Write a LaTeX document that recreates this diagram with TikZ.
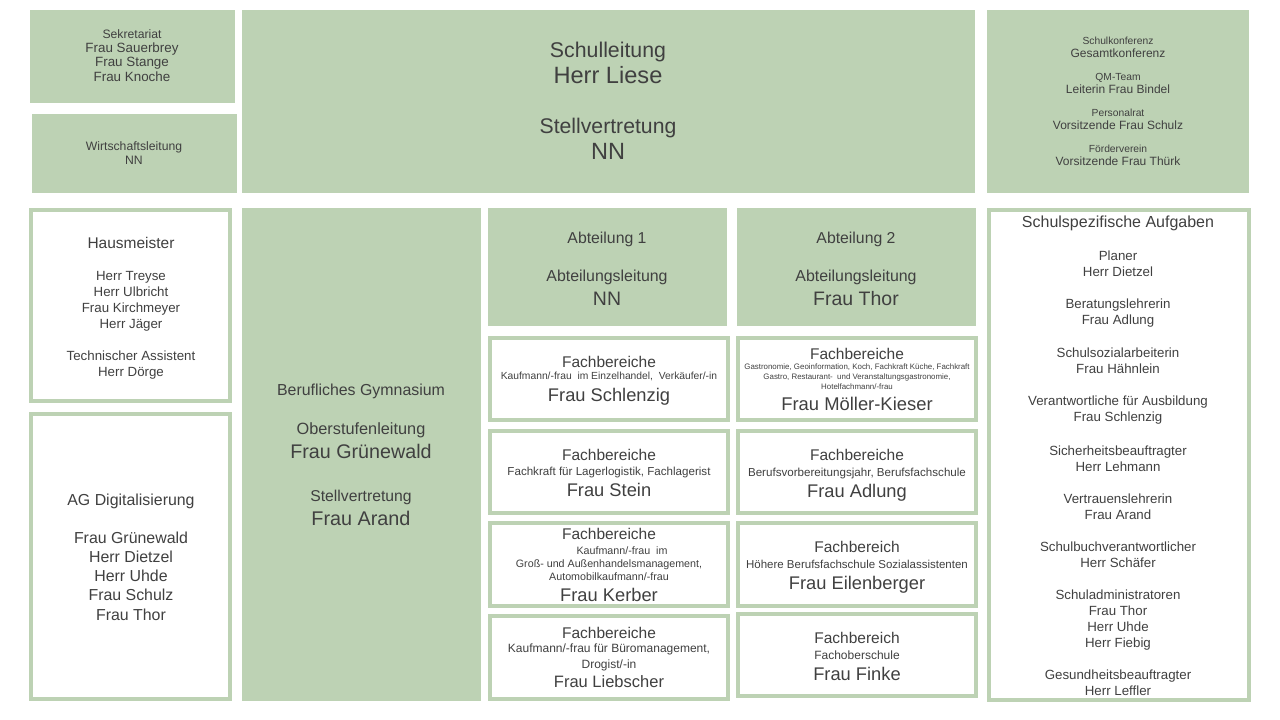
\documentclass[tikz,border=0pt]{standalone}
\usepackage{fontspec}
\setmainfont{Liberation Sans}
\definecolor{gfill}{RGB}{189,210,180}
\definecolor{tcol}{RGB}{64,64,64}
\tikzset{
  fillbox/.style={fill=gfill,draw=none,inner sep=0pt,outer sep=0pt},
  linebox/.style={fill=white,draw=gfill,line width=4pt,inner sep=0pt,outer sep=0pt},
  txt/.style={text=tcol,inner sep=0pt,outer sep=0pt,anchor=base}
}
\newcommand\fbx[5]{\node[fillbox,minimum width={(#4-#2)*1pt},minimum height={(#5-#3)*1pt}] (#1) at ({(#2+#4)/2},{(#3+#5)/2}) {};}
\newcommand\obx[5]{\node[linebox,minimum width={(#4-#2-4)*1pt},minimum height={(#5-#3-4)*1pt}] (#1) at ({(#2+#4)/2},{(#3+#5)/2}) {};}
\newcommand\tx[5]{\node[txt,font=\fontsize{#4}{#4}\selectfont] (#1) at (#2,{#3+0.36*#4}) {#5};}
\begin{document}
\begin{tikzpicture}[x=1pt,y=-1pt]
\useasboundingbox (0,0) rectangle (1280,720);
% ---- boxes
\fbx{sek}{30}{10}{235}{103}
\fbx{wirt}{32}{114}{237}{193}
\fbx{sl}{242}{10}{975}{193}
\fbx{gremien}{987}{10}{1249}{193}
\obx{haus}{29}{208}{232}{403}
\obx{agd}{29}{412}{232}{701}
\fbx{gym}{242}{208}{481}{701}
\fbx{abt1}{488}{208}{727}{326}
\fbx{abt2}{737}{208}{976}{326}
\obx{fa1}{488}{336}{730}{422}
\obx{fa2}{488}{429}{730}{515}
\obx{fa3}{488}{521}{730}{608}
\obx{fa4}{488}{614}{730}{701}
\obx{fb1}{736}{336}{978}{422}
\obx{fb2}{736}{429}{978}{515}
\obx{fb3}{736}{521}{978}{608}
\obx{fb4}{736}{612}{978}{698}
\obx{sa}{987}{208}{1251}{702}
% ---- Sekretariat
\tx{s1}{132}{34}{12.2}{Sekretariat}
\tx{s2}{132}{48}{13.4}{Frau Sauerbrey}
\tx{s3}{132}{62}{13.4}{Frau Stange}
\tx{s4}{132}{77}{13.4}{Frau Knoche}
% ---- Wirtschaftsleitung
\tx{w1}{134}{146}{12.2}{Wirtschaftsleitung}
\tx{w2}{134}{160}{12.2}{NN}
% ---- Schulleitung
\tx{l1}{608}{50}{21.3}{Schulleitung}
\tx{l2}{608}{75}{23.6}{Herr Liese}
\tx{l3}{608}{126}{21.2}{Stellvertretung}
\tx{l4}{608}{151}{23.5}{NN}
% ---- Gremien
\tx{g1}{1118}{41}{10.3}{Schulkonferenz}
\tx{g2}{1118}{53}{12}{Gesamtkonferenz}
\tx{g3}{1118}{77}{10.3}{QM-Team}
\tx{g4}{1118}{89}{12}{Leiterin Frau Bindel}
\tx{g5}{1118}{113}{10.3}{Personalrat}
\tx{g6}{1118}{125}{12}{Vorsitzende Frau Schulz}
\tx{g7}{1118}{149}{10.3}{Förderverein}
\tx{g8}{1118}{161}{12}{Vorsitzende Frau Thürk}
% ---- Hausmeister
\tx{h1}{131}{243}{15.5}{Hausmeister}
\tx{h2}{131}{276}{13.3}{Herr Treyse}
\tx{h3}{131}{292}{13.3}{Herr Ulbricht}
\tx{h4}{131}{308}{13.3}{Frau Kirchmeyer}
\tx{h5}{131}{324}{13.3}{Herr Jäger}
\tx{h6}{131}{356}{13.3}{Technischer Assistent}
\tx{h7}{131}{372}{13.3}{Herr Dörge}
% ---- AG Digitalisierung
\tx{a1}{131}{500}{15.9}{AG Digitalisierung}
\tx{a2}{131}{538}{15.9}{Frau Grünewald}
\tx{a3}{131}{557}{15.9}{Herr Dietzel}
\tx{a4}{131}{576}{15.9}{Herr Uhde}
\tx{a5}{131}{595}{15.9}{Frau Schulz}
\tx{a6}{131}{615}{15.9}{Frau Thor}
% ---- Berufliches Gymnasium
\tx{y1}{361}{390}{15.9}{Berufliches Gymnasium}
\tx{y2}{361}{429}{16.3}{Oberstufenleitung}
\tx{y3}{361}{451}{19.7}{Frau Grünewald}
\tx{y4}{361}{496}{15.7}{Stellvertretung}
\tx{y5}{361}{518}{19.8}{Frau Arand}
% ---- Abteilungen
\tx{b1}{607}{238}{15.8}{Abteilung 1}
\tx{b2}{607}{276}{15.9}{Abteilungsleitung}
\tx{b3}{607}{298}{19.5}{NN}
\tx{c1}{856}{238}{15.8}{Abteilung 2}
\tx{c2}{856}{276}{15.9}{Abteilungsleitung}
\tx{c3}{856}{298}{19.5}{Frau Thor}
% ---- Fachbereiche Abteilung 1
\tx{fa1a}{609}{362}{15.5}{Fachbereiche}
\tx{fa1b}{609}{376}{10.3}{Kaufmann/-frau\ \ im Einzelhandel,\ \ Verkäufer/-in}
\tx{fa1c}{609}{395}{18.3}{Frau Schlenzig}
\tx{fa2a}{609}{455}{15.5}{Fachbereiche}
\tx{fa2b}{609}{471}{11.6}{Fachkraft für Lagerlogistik, Fachlagerist}
\tx{fa2c}{609}{490}{18.3}{Frau Stein}
\tx{fa3a}{609}{534}{15.5}{Fachbereiche}
\tx{fa3b}{622}{551}{10.7}{Kaufmann/-frau\ \ im}
\tx{fa3c}{609}{564}{10.7}{Groß- und Außenhandelsmanagement,}
\tx{fa3d}{609}{577}{10.7}{Automobilkaufmann/-frau}
\tx{fa3e}{609}{595}{18.3}{Frau Kerber}
\tx{fa4a}{609}{633}{15.5}{Fachbereiche}
\tx{fa4b}{609}{648}{12}{Kaufmann/-frau für Büromanagement,}
\tx{fa4c}{609}{664}{12}{Drogist/-in}
\tx{fa4d}{609}{682}{16.5}{Frau Liebscher}
% ---- Fachbereiche Abteilung 2
\tx{fb1a}{857}{354}{15.5}{Fachbereiche}
\tx{fb1b}{857}{367}{7.9}{Gastronomie, Geoinformation, Koch, Fachkraft Küche, Fachkraft}
\tx{fb1c}{857}{377}{7.9}{Gastro, Restaurant-\ \ und Veranstaltungsgastronomie,}
\tx{fb1d}{857}{387}{7.9}{Hotelfachmann/-frau}
\tx{fb1e}{857}{404}{18.4}{Frau Möller-Kieser}
\tx{fb2a}{857}{455}{15.5}{Fachbereiche}
\tx{fb2b}{857}{472}{11.6}{Berufsvorbereitungsjahr, Berufsfachschule}
\tx{fb2c}{857}{491}{18.3}{Frau Adlung}
\tx{fb3a}{857}{547}{15.5}{Fachbereich}
\tx{fb3b}{857}{564}{11.5}{Höhere Berufsfachschule Sozialassistenten}
\tx{fb3c}{857}{583}{18.3}{Frau Eilenberger}
\tx{fb4a}{857}{638}{15.5}{Fachbereich}
\tx{fb4b}{857}{655}{12}{Fachoberschule}
\tx{fb4c}{857}{674}{18.3}{Frau Finke}
% ---- Schulspezifische Aufgaben
\tx{z0}{1118}{222}{16}{Schulspezifische Aufgaben}
\tx{z1}{1118}{256}{13.3}{Planer}
\tx{z2}{1118}{272}{13.3}{Herr Dietzel}
\tx{z3}{1118}{304}{13.3}{Beratungslehrerin}
\tx{z4}{1118}{320}{13.3}{Frau Adlung}
\tx{z5}{1118}{353}{13.3}{Schulsozialarbeiterin}
\tx{z6}{1118}{369}{13.3}{Frau Hähnlein}
\tx{z7}{1118}{401}{13.3}{Verantwortliche für Ausbildung}
\tx{z8}{1118}{417}{13.3}{Frau Schlenzig}
\tx{z9}{1118}{451}{13.3}{Sicherheitsbeauftragter}
\tx{z10}{1118}{467}{13.3}{Herr Lehmann}
\tx{z11}{1118}{499}{13.3}{Vertrauenslehrerin}
\tx{z12}{1118}{515}{13.3}{Frau Arand}
\tx{z13}{1118}{547}{13.3}{Schulbuchverantwortlicher}
\tx{z14}{1118}{563}{13.3}{Herr Schäfer}
\tx{z15}{1118}{595}{13.3}{Schuladministratoren}
\tx{z16}{1118}{611}{13.3}{Frau Thor}
\tx{z17}{1118}{627}{13.3}{Herr Uhde}
\tx{z18}{1118}{643}{13.3}{Herr Fiebig}
\tx{z19}{1118}{675}{13.3}{Gesundheitsbeauftragter}
\tx{z20}{1118}{691}{13.3}{Herr Leffler}
\end{tikzpicture}
\end{document}
